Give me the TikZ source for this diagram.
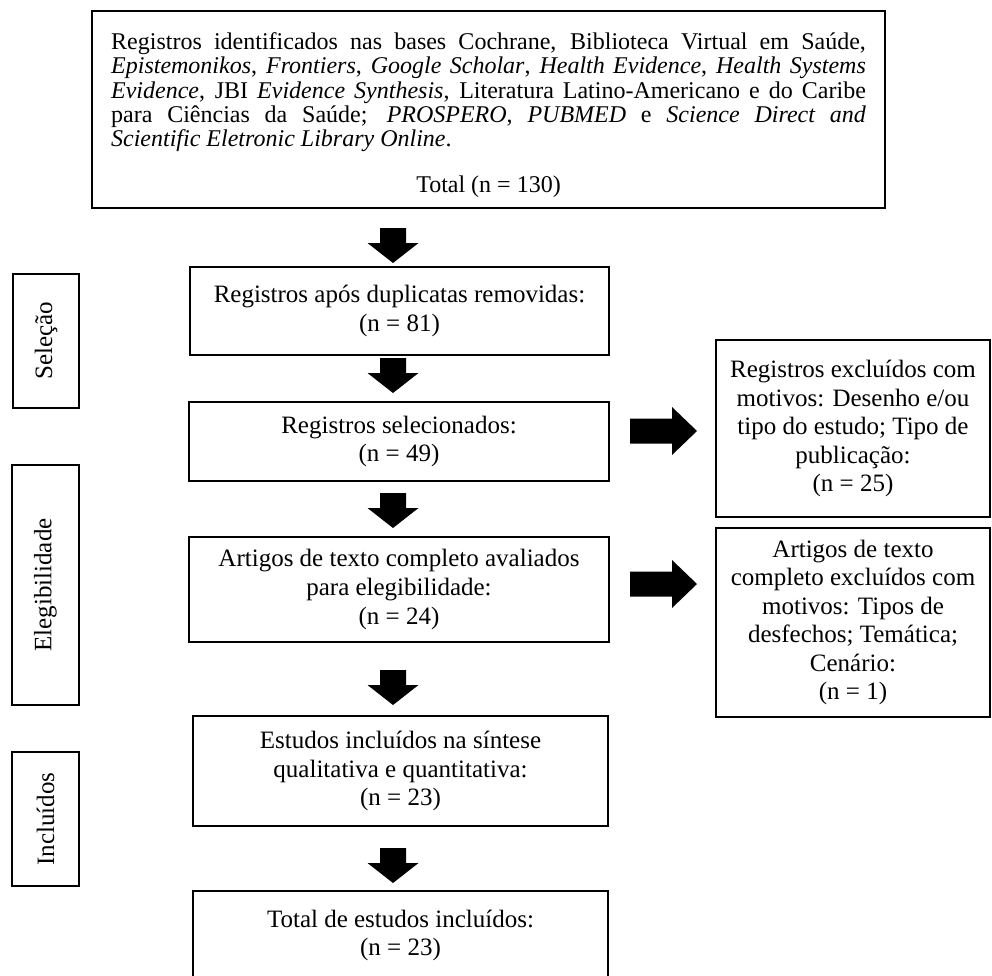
\documentclass[tikz,border=0pt]{standalone}
\usepackage{fontspec}
\setmainfont{Liberation Serif}
\usetikzlibrary{calc}
\newcommand\drawflowbox[6]{\node[boxbase, minimum width={(#4-#2)*0.75pt}, minimum height={(#5-#3)*0.75pt}] (#1) at ({(#2+#4)/2},{(#3+#5)/2}) {#6};}
\newcommand\drawstagebox[6]{\node[boxbase, rotate=90, minimum width={(#5-#3)*0.75pt}, minimum height={(#4-#2)*0.75pt}] (#1) at ({(#2+#4)/2},{(#3+#5)/2}) {#6};}
\begin{document}
\begin{tikzpicture}[x=0.75pt,y=-0.75pt,
  boxbase/.style={draw, line width=2pt, inner sep=0pt, outer sep=0pt, align=center,
    font=\fontsize{18.75pt}{21.4pt}\selectfont},
  downblk/.pic={\fill (-13,0) -- (13,0) -- (13,15) -- (25.5,15) -- (0,35) -- (-25.5,15) -- (-13,15) -- cycle;},
  rightblk/.pic={\fill (0,-12.5) -- (42,-12.5) -- (42,-24) -- (67,0) -- (42,24) -- (42,12.5) -- (0,12.5) -- cycle;}
]
\useasboundingbox (0,0) rectangle (992,975);

% top box
\node[boxbase, align=justify, text width=566pt, minimum width={793*0.75pt}, minimum height={197*0.75pt},
  font=\fontsize{18pt}{18.3pt}\selectfont] (src) at (488.5,109.5)
{\rule{0pt}{21pt}Registros identificados nas bases Cochrane, Biblioteca Virtual em Saúde,\linebreak
\textit{Epistemonikos}, \textit{Frontiers}, \textit{Google Scholar}, \textit{Health Evidence}, \textit{Health Systems}\linebreak
\textit{Evidence}, JBI \textit{Evidence Synthesis}, Literatura Latino-Americano e do Caribe\linebreak
para Ciências da Saúde; \textit{PROSPERO}, \textit{PUBMED} e \textit{Science Direct and}\linebreak
\textit{Scientific Eletronic Library Online}.\par
\vspace{16pt}{\centering Total (n = 130)\par}};

% main column
\drawflowbox{dup}{190}{267}{609}{355}{Registros após duplicatas removidas:\\(n = 81)}
\drawflowbox{sel}{189}{402}{609}{481}{Registros selecionados:\\(n = 49)}
\drawflowbox{full}{189}{537}{609}{642}{Artigos de texto completo avaliados\\para elegibilidade:\\(n = 24)}
\drawflowbox{incl}{193}{716}{608}{826}{Estudos incluídos na síntese\\qualitativa e quantitativa:\\(n = 23)}
\drawflowbox{tot}{193}{891}{608}{980}{Total de estudos incluídos:\\(n = 23)}

% exclusion boxes
\drawflowbox{exa}{716}{340}{990}{517}{Registros excluídos com\\motivos: Desenho e/ou\\tipo do estudo; Tipo de\\publicação:\\(n = 25)}
\drawflowbox{exb}{716}{528}{990}{717}{Artigos de texto\\completo excluídos com\\motivos: Tipos de\\desfechos; Temática;\\Cenário:\\(n = 1)}

% stage labels
\drawstagebox{stsel}{13}{274}{79}{408}{Seleção}
\drawstagebox{stele}{12}{465}{79}{705}{Elegibilidade}
\drawstagebox{stinc}{12}{752}{79}{886}{Incluídos}

% block arrows
\pic at (393,228) {downblk};
\pic at (393,358) {downblk};
\pic at (393,493) {downblk};
\pic at (393,670) {downblk};
\pic at (393,848) {downblk};
\pic at (630,431) {rightblk};
\pic at (630,584) {rightblk};
\end{tikzpicture}
\end{document}
